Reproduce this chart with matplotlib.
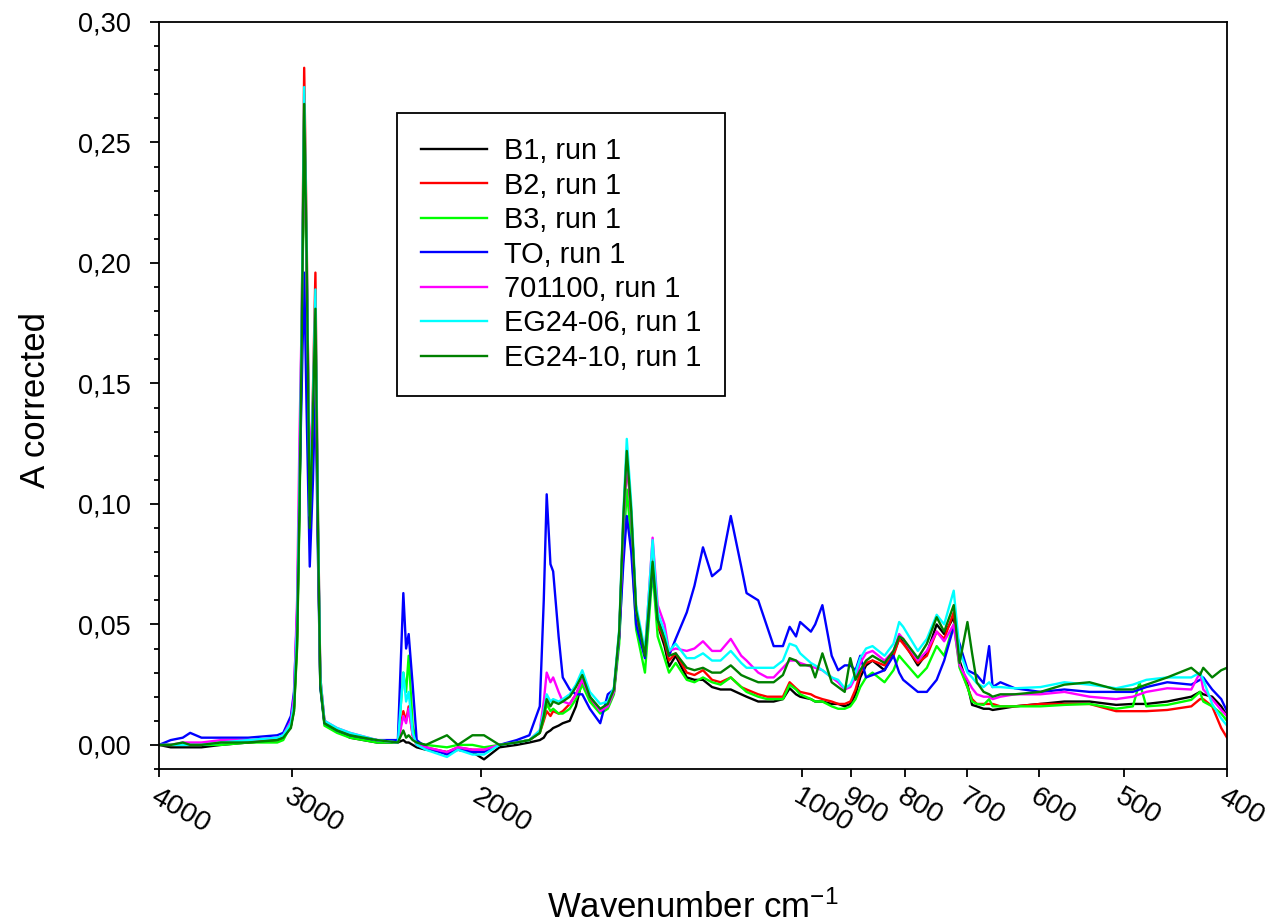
import matplotlib
matplotlib.use("Agg")
import matplotlib.pyplot as plt
from matplotlib.ticker import FixedLocator, NullLocator, MultipleLocator, FuncFormatter

plt.rcParams['font.family'] = ['Liberation Sans', 'DejaVu Sans']
plt.rcParams['mathtext.default'] = 'regular'

# ---------------- data (wavenumber grid, cm-1) ----------------
wavenumber = [4000, 3900, 3800, 3740, 3650, 3500, 3300, 3100, 3060, 3010,
              2990, 2970, 2955, 2940, 2925, 2910, 2890, 2870, 2855, 2840,
              2825, 2800, 2725, 2650, 2500, 2390, 2362, 2348, 2335, 2315,
              2295, 2250, 2150, 2100, 2035, 1985, 1920, 1850, 1800, 1760,
              1745, 1734, 1720, 1710, 1690, 1675, 1650, 1628, 1606, 1580,
              1545, 1520, 1500, 1483, 1470, 1459, 1445, 1430, 1403, 1380,
              1365, 1345, 1332, 1313, 1282, 1261, 1238, 1214, 1192, 1166,
              1140, 1127, 1099, 1078, 1063, 1042, 1027, 1013, 1004, 981,
              972, 957, 938, 925, 912, 901, 891, 882, 871, 859,
              837, 821, 811, 804, 779, 764, 748, 736, 721, 712,
              700, 693, 686, 676, 668, 663, 652, 632, 598, 568,
              538, 508, 490, 483, 476, 455, 432, 424, 421, 413,
              405, 400]

b1 = [0.000, -0.001, -0.001, -0.001, -0.001, 0.000, 0.001, 0.002, 0.003, 0.008,
      0.015, 0.045, 0.100, 0.170, 0.262, 0.200, 0.092, 0.140, 0.178, 0.090,
      0.025, 0.009, 0.006, 0.003, 0.001, 0.001, 0.002, 0.001, 0.001, 0.000,
      -0.001, -0.002, -0.003, -0.002, -0.003, -0.006, -0.001, 0.000, 0.001, 0.002,
      0.003, 0.005, 0.006, 0.007, 0.008, 0.009, 0.010, 0.016, 0.027, 0.020,
      0.014, 0.016, 0.022, 0.045, 0.090, 0.120, 0.095, 0.055, 0.037, 0.076,
      0.050, 0.041, 0.0325, 0.037, 0.028, 0.027, 0.027, 0.024, 0.023, 0.023,
      0.021, 0.020, 0.018, 0.018, 0.018, 0.019, 0.0235, 0.021, 0.020, 0.019,
      0.018, 0.018, 0.017, 0.017, 0.016, 0.017, 0.021, 0.028, 0.033, 0.035,
      0.031, 0.038, 0.044, 0.043, 0.033, 0.038, 0.050, 0.046, 0.053, 0.035,
      0.025, 0.0166, 0.016, 0.015, 0.015, 0.0145, 0.015, 0.016, 0.017, 0.018,
      0.018, 0.0166, 0.017, 0.017, 0.017, 0.018, 0.020, 0.022, 0.021, 0.020,
      0.016, 0.012]

b2 = [0.000, 0.000, 0.000, 0.000, 0.000, 0.001, 0.001, 0.002, 0.003, 0.008,
      0.016, 0.048, 0.105, 0.180, 0.281, 0.215, 0.095, 0.148, 0.196, 0.100,
      0.028, 0.010, 0.006, 0.004, 0.002, 0.001, 0.014, 0.010, 0.016, 0.004,
      0.000, -0.001, -0.003, -0.001, -0.002, -0.002, 0.000, 0.001, 0.002, 0.005,
      0.010, 0.014, 0.012, 0.014, 0.013, 0.014, 0.017, 0.021, 0.027, 0.019,
      0.014, 0.016, 0.022, 0.046, 0.092, 0.122, 0.095, 0.055, 0.037, 0.078,
      0.050, 0.043, 0.035, 0.038, 0.030, 0.029, 0.031, 0.027, 0.026, 0.028,
      0.024, 0.023, 0.021, 0.020, 0.020, 0.020, 0.026, 0.0235, 0.022, 0.021,
      0.020, 0.019, 0.018, 0.017, 0.017, 0.018, 0.023, 0.030, 0.034, 0.035,
      0.033, 0.037, 0.044, 0.042, 0.034, 0.037, 0.047, 0.044, 0.055, 0.033,
      0.024, 0.019, 0.017, 0.017, 0.017, 0.017, 0.016, 0.016, 0.017, 0.017,
      0.017, 0.014, 0.014, 0.014, 0.014, 0.0145, 0.016, 0.019, 0.019, 0.016,
      0.007, 0.003]

b3 = [0.000, 0.000, 0.000, 0.000, 0.000, 0.000, 0.001, 0.001, 0.002, 0.008,
      0.014, 0.040, 0.095, 0.165, 0.255, 0.195, 0.090, 0.135, 0.172, 0.088,
      0.024, 0.008, 0.005, 0.003, 0.001, 0.001, 0.030, 0.022, 0.037, 0.008,
      0.001, 0.000, -0.001, 0.000, 0.000, -0.001, 0.000, 0.001, 0.002, 0.005,
      0.011, 0.017, 0.014, 0.015, 0.013, 0.013, 0.015, 0.019, 0.025, 0.018,
      0.013, 0.015, 0.021, 0.042, 0.080, 0.106, 0.085, 0.048, 0.030, 0.072,
      0.045, 0.036, 0.030, 0.034, 0.027, 0.026, 0.028, 0.026, 0.025, 0.028,
      0.024, 0.022, 0.020, 0.019, 0.019, 0.019, 0.025, 0.023, 0.021, 0.019,
      0.018, 0.018, 0.016, 0.015, 0.015, 0.016, 0.019, 0.024, 0.028, 0.030,
      0.026, 0.031, 0.037, 0.035, 0.028, 0.032, 0.041, 0.037, 0.050, 0.032,
      0.024, 0.018, 0.017, 0.0166, 0.019, 0.016, 0.016, 0.016, 0.016, 0.0166,
      0.017, 0.015, 0.016, 0.026, 0.016, 0.0166, 0.0187, 0.022, 0.018, 0.016,
      0.013, 0.010]

to = [0.000, 0.002, 0.003, 0.005, 0.003, 0.003, 0.003, 0.004, 0.005, 0.012,
      0.022, 0.055, 0.105, 0.150, 0.196, 0.140, 0.074, 0.110, 0.150, 0.080,
      0.024, 0.009, 0.006, 0.004, 0.002, 0.002, 0.063, 0.040, 0.046, 0.025,
      0.002, -0.001, -0.004, -0.002, -0.003, -0.003, 0.000, 0.002, 0.004, 0.016,
      0.060, 0.104, 0.075, 0.072, 0.045, 0.028, 0.023, 0.021, 0.021, 0.015,
      0.009, 0.021, 0.023, 0.045, 0.075, 0.095, 0.080, 0.050, 0.036, 0.075,
      0.052, 0.045, 0.037, 0.044, 0.055, 0.066, 0.082, 0.070, 0.073, 0.095,
      0.074, 0.063, 0.060, 0.049, 0.041, 0.041, 0.049, 0.045, 0.051, 0.047,
      0.050, 0.058, 0.037, 0.031, 0.033, 0.033, 0.031, 0.037, 0.028, 0.029,
      0.031, 0.037, 0.030, 0.027, 0.022, 0.022, 0.027, 0.035, 0.049, 0.042,
      0.031, 0.030, 0.029, 0.0256, 0.041, 0.024, 0.026, 0.0235, 0.022, 0.023,
      0.022, 0.022, 0.022, 0.023, 0.024, 0.026, 0.025, 0.027, 0.028, 0.023,
      0.019, 0.014]

s701100 = [0.000, 0.000, 0.001, 0.001, 0.001, 0.002, 0.002, 0.003, 0.004, 0.010,
           0.020, 0.060, 0.127, 0.180, 0.258, 0.200, 0.115, 0.140, 0.175, 0.092,
           0.027, 0.010, 0.007, 0.005, 0.002, 0.001, 0.012, 0.009, 0.015, 0.004,
           0.000, -0.001, -0.003, -0.001, -0.002, -0.002, 0.000, 0.001, 0.002, 0.006,
           0.018, 0.030, 0.026, 0.028, 0.022, 0.018, 0.017, 0.021, 0.027, 0.020,
           0.014, 0.016, 0.022, 0.046, 0.090, 0.120, 0.095, 0.056, 0.038, 0.086,
           0.058, 0.050, 0.039, 0.040, 0.039, 0.040, 0.043, 0.039, 0.039, 0.044,
           0.037, 0.035, 0.030, 0.028, 0.028, 0.032, 0.035, 0.035, 0.034, 0.0325,
           0.032, 0.031, 0.028, 0.026, 0.023, 0.024, 0.028, 0.034, 0.038, 0.039,
           0.035, 0.039, 0.046, 0.044, 0.035, 0.039, 0.047, 0.043, 0.050, 0.033,
           0.027, 0.0235, 0.021, 0.020, 0.020, 0.019, 0.020, 0.021, 0.021, 0.022,
           0.020, 0.019, 0.020, 0.021, 0.022, 0.0235, 0.023, 0.030, 0.023, 0.019,
           0.0145, 0.012]

eg24_06 = [0.000, 0.000, 0.000, 0.000, 0.000, 0.001, 0.002, 0.003, 0.004, 0.009,
           0.017, 0.050, 0.108, 0.180, 0.273, 0.210, 0.095, 0.145, 0.189, 0.098,
           0.028, 0.010, 0.007, 0.005, 0.002, 0.001, 0.030, 0.018, 0.022, 0.005,
           0.000, -0.002, -0.005, -0.002, -0.004, -0.004, 0.000, 0.001, 0.002, 0.006,
           0.014, 0.021, 0.018, 0.019, 0.018, 0.019, 0.021, 0.025, 0.031, 0.022,
           0.017, 0.018, 0.024, 0.048, 0.096, 0.127, 0.100, 0.058, 0.039, 0.085,
           0.055, 0.047, 0.039, 0.042, 0.036, 0.036, 0.038, 0.035, 0.035, 0.039,
           0.034, 0.032, 0.032, 0.032, 0.032, 0.035, 0.042, 0.041, 0.038, 0.034,
           0.033, 0.031, 0.028, 0.027, 0.0235, 0.025, 0.030, 0.036, 0.040, 0.041,
           0.037, 0.042, 0.051, 0.049, 0.039, 0.044, 0.054, 0.050, 0.064, 0.039,
           0.030, 0.028, 0.0256, 0.024, 0.026, 0.024, 0.024, 0.0235, 0.024, 0.026,
           0.025, 0.0235, 0.025, 0.026, 0.027, 0.028, 0.028, 0.030, 0.027, 0.017,
           0.011, 0.008]

eg24_10 = [0.000, 0.000, 0.001, 0.000, 0.000, 0.001, 0.001, 0.002, 0.003, 0.007,
           0.014, 0.042, 0.098, 0.170, 0.266, 0.205, 0.090, 0.138, 0.181, 0.092,
           0.025, 0.009, 0.006, 0.004, 0.002, 0.001, 0.006, 0.003, 0.004, 0.002,
           0.001, 0.000, 0.004, 0.000, 0.004, 0.004, 0.000, 0.001, 0.002, 0.005,
           0.012, 0.019, 0.016, 0.018, 0.017, 0.018, 0.020, 0.024, 0.029, 0.020,
           0.015, 0.017, 0.023, 0.047, 0.094, 0.122, 0.097, 0.056, 0.037, 0.076,
           0.052, 0.044, 0.037, 0.038, 0.032, 0.031, 0.032, 0.030, 0.030, 0.033,
           0.029, 0.028, 0.026, 0.026, 0.026, 0.029, 0.036, 0.035, 0.033, 0.033,
           0.028, 0.038, 0.026, 0.024, 0.022, 0.036, 0.027, 0.031, 0.035, 0.037,
           0.034, 0.039, 0.045, 0.044, 0.036, 0.042, 0.053, 0.047, 0.058, 0.034,
           0.051, 0.038, 0.026, 0.022, 0.021, 0.020, 0.021, 0.021, 0.022, 0.025,
           0.026, 0.023, 0.023, 0.024, 0.025, 0.028, 0.032, 0.029, 0.032, 0.028,
           0.031, 0.032]

series_labels = ["B1, run 1", "B2, run 1", "B3, run 1", "TO, run 1",
                 "701100, run 1", "EG24-06, run 1", "EG24-10, run 1"]
series_values = [b1, b2, b3, to, s701100, eg24_06, eg24_10]
series_colors = ["#000000", "#FF0000", "#00FF00", "#0000FF",
                 "#FF00FF", "#00FFFF", "#008000"]

x_ticks = [4000, 3000, 2000, 1000, 900, 800, 700, 600, 500, 400]
y_ticks = [0.00, 0.05, 0.10, 0.15, 0.20, 0.25, 0.30]

# ---------------- figure ----------------
fig = plt.figure(figsize=(12.87, 9.24), dpi=100)
ax = fig.add_axes([159/1287, 1 - 769/924, (1227-159)/1287, (769-22)/924])

for vals, lab, col in zip(series_values, series_labels, series_colors):
    ax.plot(wavenumber, vals, color=col, lw=1.7, label=lab)

ax.set_xscale('log')
ax.set_xlim(4000, 400)
ax.set_ylim(-0.01, 0.30)

ax.xaxis.set_major_locator(FixedLocator(x_ticks))
ax.xaxis.set_minor_locator(NullLocator())
ax.set_xticklabels([str(t) for t in x_ticks])

ax.yaxis.set_major_locator(FixedLocator(y_ticks))
ax.yaxis.set_minor_locator(MultipleLocator(0.01))
ax.yaxis.set_major_formatter(FuncFormatter(lambda v, p: f"{v:.2f}".replace('.', ',')))

ax.tick_params(axis='x', which='major', direction='out', length=5.5, width=1.3,
               labelsize=20.5, top=False, pad=5)
ax.tick_params(axis='y', which='major', direction='out', length=6.5, width=1.3,
               labelsize=19.5, right=False, pad=14)
ax.tick_params(axis='y', which='minor', direction='out', length=3.8, width=1.3,
               right=False)
for lbl in ax.get_xticklabels():
    lbl.set_rotation(-30)
    lbl.set_rotation_mode('anchor')
    lbl.set_ha('left')
    lbl.set_va('top')

for sp in ax.spines.values():
    sp.set_linewidth(1.3)

ax.set_xlabel("Wavenumber cm$^{-1}$", fontsize=25)
ax.xaxis.set_label_coords(0.5, -0.163)
ax.set_ylabel("A corrected", fontsize=25)
ax.yaxis.set_label_coords(-0.100, 0.494)

leg = ax.legend(loc='upper left', bbox_to_anchor=(0.2228, 0.878), fontsize=20.75,
                frameon=True, fancybox=False, edgecolor='black', framealpha=1,
                handlelength=2.3, handletextpad=0.58, labelspacing=0.225,
                borderpad=0.83, borderaxespad=0.0)
leg.get_frame().set_linewidth(1.3)

fig.savefig("out.png", dpi=100)
